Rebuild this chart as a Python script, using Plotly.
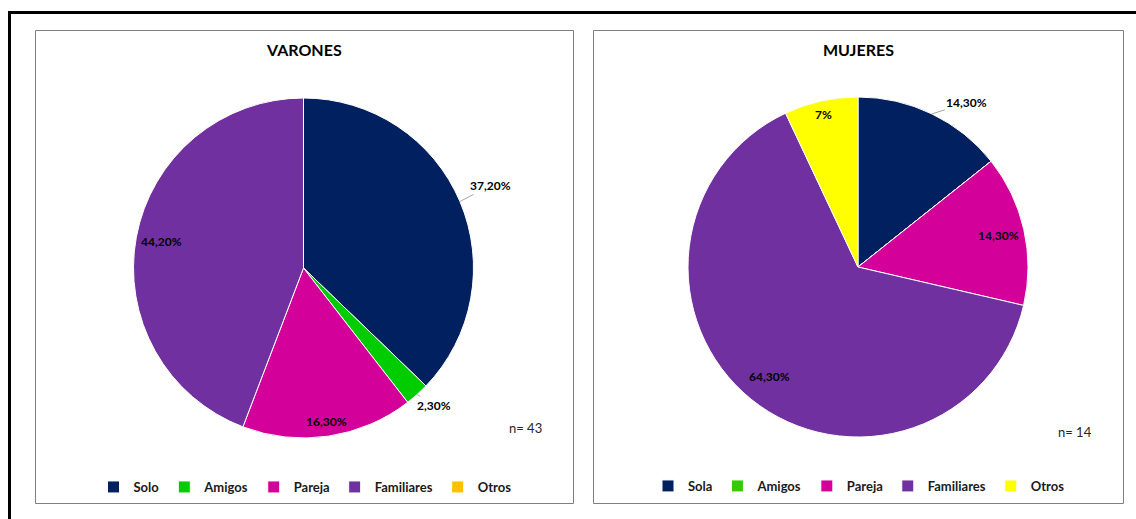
import math
import plotly.graph_objects as go

W, H = 1136, 519

# ---- data ----
cats_v = ["Solo", "Amigos", "Pareja", "Familiares", "Otros"]
vals_v = [37.2, 2.3, 16.3, 44.2, 0.0]
text_v = ["37,20%", "2,30%", "16,30%", "44,20%", ""]
n_v = 43

cats_m = ["Sola", "Amigos", "Pareja", "Familiares", "Otros"]
vals_m = [14.3, 0.0, 14.3, 64.3, 7.0]
text_m = ["14,30%", "", "14,30%", "64,30%", "7%"]
n_m = 14

# ---- style ----
colors_v = ["#002060", "#00CC00", "#D4009A", "#7030A0", "#FFC000"]
colors_m = ["#002060", "#33CC00", "#D4009A", "#7030A0", "#FFFF00"]
# label placement: number = inside at that fraction of the radius,
# (ax, ay) = outside with a leader line
place_v = [(31, -16), (17, 11), 0.91, 0.85, None]
place_m = [(35, -11), None, 0.85, 0.83, 0.92]

FONT = "Lato"
R = 170
LBL_FONT = dict(family=FONT, size=12, color="black", weight="bold")


def px(x, y):
    return x / W, 1 - y / H


fig = go.Figure()
annotations = []


def add_pie(cats, vals, colors, texts, places, cx, cy, legend_name, group, title, n, nxy):
    dom_x = [(cx - R) / W, (cx + R) / W]
    dom_y = [1 - (cy + R) / H, 1 - (cy - R) / H]
    fig.add_trace(go.Pie(
        labels=cats, values=vals, sort=False, direction="clockwise", rotation=0,
        marker=dict(colors=colors, line=dict(color="white", width=1)),
        textinfo="none", hoverinfo="label+percent",
        domain=dict(x=dom_x, y=dom_y), legend=legend_name, legendgroup=group,
        showlegend=True,
    ))
    total = sum(vals)
    cum = 0.0
    for v, t, p in zip(vals, texts, places):
        a0 = cum / total * 360
        cum += v
        a1 = cum / total * 360
        if not t or v == 0 or p is None:
            continue
        mid = math.radians((a0 + a1) / 2)
        if isinstance(p, float):
            x = cx + p * R * math.sin(mid)
            y = cy - p * R * math.cos(mid)
            xp, yp = px(x, y)
            annotations.append(dict(x=xp, y=yp, xref="paper", yref="paper", text=t,
                                    xanchor="center", yanchor="middle",
                                    showarrow=False, font=LBL_FONT))
        else:
            x = cx + R * math.sin(mid)
            y = cy - R * math.cos(mid)
            xp, yp = px(x, y)
            annotations.append(dict(x=xp, y=yp, xref="paper", yref="paper", text=t,
                                    xanchor="center", yanchor="middle",
                                    showarrow=True, arrowhead=0, arrowwidth=1,
                                    arrowcolor="#A6A6A6", ax=p[0], ay=p[1], standoff=0,
                                    font=LBL_FONT))
    tx, ty = px(cx, 50)
    annotations.append(dict(x=tx, y=ty, xref="paper", yref="paper", text=title,
                            xanchor="center", yanchor="middle", showarrow=False,
                            font=dict(family=FONT, size=16, color="black", weight="bold")))
    nx_, ny_ = px(*nxy)
    annotations.append(dict(x=nx_, y=ny_, xref="paper", yref="paper", text=f"n= {n}",
                            xanchor="center", yanchor="middle", showarrow=False,
                            font=dict(family=FONT, size=13, color="#262626")))


add_pie(cats_v, vals_v, colors_v, text_v, place_v, 303.5, 268, "legend", "v",
        "VARONES", n_v, (525, 428))
add_pie(cats_m, vals_m, colors_m, text_m, place_m, 858, 267, "legend2", "m",
        "MUJERES", n_m, (1075, 432))

shapes = []
for x0, x1 in [(35.5, 573.5), (593.5, 1123.5)]:
    a, b = px(x0, 503.5)
    c, d = px(x1, 30.5)
    shapes.append(dict(type="rect", xref="paper", yref="paper", x0=a, y0=b, x1=c, y1=d,
                       line=dict(color="#7F7F7F", width=1)))
a, b = px(9.5, 530)
c, d = px(1150, 12.5)
shapes.append(dict(type="rect", xref="paper", yref="paper", x0=a, y0=b, x1=c, y1=d,
                   line=dict(color="black", width=3)))

leg_font = dict(family=FONT, size=13, color="#1A1A1A", weight="bold")
lx1, ly1 = px(305, 487)
lx2, ly2 = px(859, 486)
fig.update_layout(
    width=W, height=H, margin=dict(l=0, r=0, t=0, b=0, autoexpand=False),
    paper_bgcolor="white", plot_bgcolor="white",
    annotations=annotations, shapes=shapes,
    legend=dict(orientation="h", x=lx1, y=ly1, xanchor="center", yanchor="middle",
                traceorder="normal", font=leg_font, itemwidth=30,
                bgcolor="rgba(0,0,0,0)"),
    legend2=dict(orientation="h", x=lx2, y=ly2, xanchor="center", yanchor="middle",
                 traceorder="normal", font=leg_font, itemwidth=30,
                 bgcolor="rgba(0,0,0,0)"),
)

fig.write_html("out.html", config={"displayModeBar": False},
               post_script="document.body.style.margin='0';")
